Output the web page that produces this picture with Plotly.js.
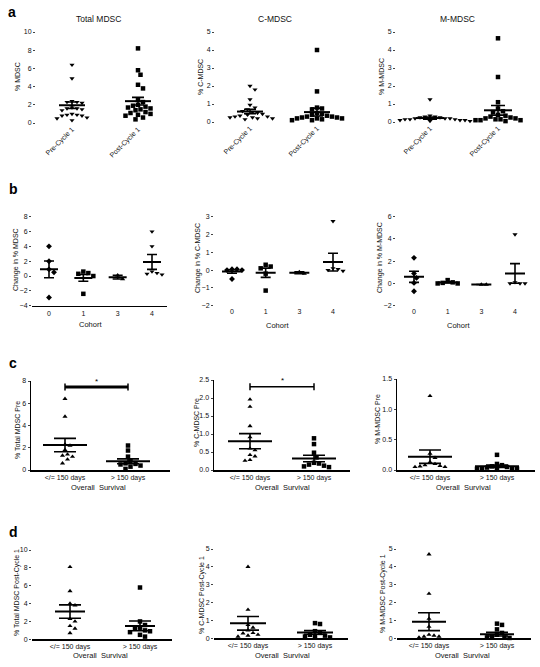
<!DOCTYPE html>
<html><head><meta charset="utf-8">
<script src="https://cdn.plot.ly/plotly-3.0.1.min.js"></script>
<style>html,body{margin:0;padding:0;background:#fff}#chart{width:540px;height:667px}</style>
</head><body><div id="chart"></div>
<script>
// ---------------- DATA ----------------
const aLabels = ['Pre-Cycle 1', 'Post-Cycle 1'];
const cohortLabels = ['0', '1', '3', '4'];
const osLabels = ['</= 150 days', '> 150 days'];

// a: % MDSC pre / post cycle 1
const a1Pre  = [6.4, 4.9, 2.4, 2.3, 2.3, 2.2, 1.7, 1.6, 1.6, 1.5, 1.4, 1.0, 0.9, 0.9, 0.8, 0.8, 0.6, 0.5, 0.3];
const a1Post = [8.2, 5.8, 5.3, 4.2, 3.8, 2.6, 2.3, 2.0, 1.9, 1.8, 1.7, 1.6, 1.5, 1.4, 1.2, 1.1, 1.0, 0.9, 0.8, 0.6, 0.4];
const a1Mean = [1.95, 2.4];
const a1Sem  = [0.35, 0.42];
const a2Pre  = [2.0, 1.8, 1.25, 0.95, 0.8, 0.7, 0.6, 0.55, 0.5, 0.45, 0.4, 0.35, 0.3, 0.3, 0.25, 0.25, 0.2, 0.2, 0.15];
const a2Post = [4.0, 1.7, 0.8, 0.75, 0.7, 0.5, 0.45, 0.4, 0.35, 0.3, 0.3, 0.25, 0.25, 0.2, 0.2, 0.2, 0.15, 0.1, 0.1];
const a2Mean = [0.58, 0.55];
const a2Sem  = [0.12, 0.22];
const a3Pre  = [1.25, 0.35, 0.3, 0.3, 0.25, 0.25, 0.2, 0.2, 0.2, 0.15, 0.15, 0.15, 0.1, 0.1, 0.1, 0.1, 0.05, 0.05];
const a3Post = [4.65, 2.5, 1.1, 0.75, 0.6, 0.55, 0.4, 0.35, 0.3, 0.25, 0.2, 0.2, 0.15, 0.15, 0.1, 0.1, 0.1, 0.05];
const a3Mean = [0.22, 0.65];
const a3Sem  = [0.06, 0.27];

// b: change in % by cohort (0, 1, 3, 4)
const b1C0 = [4.0, 2.0, 0.9, 0.5, -2.9];
const b1C1 = [0.6, 0.4, 0.3, 0.0, -2.4];
const b1C3 = [0.1, -0.4];
const b1C4 = [6.0, 4.0, 0.6, 0.4, 0.3, 0.2];
const b1Mean = [0.9, -0.25, -0.15, 1.9];
const b1Sem  = [1.13, 0.45, 0.25, 1.0];
const b2C0 = [0.05, 0.05, 0.0, 0.0, -0.5];
const b2C1 = [0.3, 0.2, 0.1, -0.2, -1.15];
const b2C3 = [-0.1, -0.2];
const b2C4 = [2.75, 0.1, 0.05, 0.0, -0.05];
const b2Mean = [-0.08, -0.15, -0.15, 0.45];
const b2Sem  = [0.1, 0.26, 0.05, 0.5];
const b3C0 = [2.3, 0.9, 0.5, 0.05, -0.7];
const b3C1 = [0.3, 0.1, 0.05, 0.0, 0.0];
const b3C3 = [-0.1, -0.1];
const b3C4 = [4.4, 0.1, 0.0, 0.0, 0.0];
const b3Mean = [0.6, 0.09, -0.1, 0.9];
const b3Sem  = [0.5, 0.05, 0.0, 0.88];

// c: % pre by overall survival
const c1Short = [6.4, 4.8, 2.3, 2.2, 1.8, 1.4, 1.3, 1.2, 0.95, 0.6];
const c1Long  = [2.2, 1.75, 1.2, 0.8, 0.6, 0.55, 0.5, 0.4, 0.3, 0.1];
const c1Mean = [2.24, 0.78];
const c1Sem  = [0.6, 0.22];
const c2Short = [1.96, 1.76, 1.22, 0.91, 0.6, 0.55, 0.42, 0.38, 0.28, 0.26];
const c2Long  = [0.88, 0.72, 0.48, 0.35, 0.2, 0.18, 0.15, 0.12, 0.1, 0.08];
const c2Mean = [0.8, 0.32];
const c2Sem  = [0.21, 0.09];
const c3Short = [1.22, 0.27, 0.2, 0.13, 0.1, 0.08, 0.07, 0.06, 0.05, 0.05];
const c3Long  = [0.25, 0.1, 0.08, 0.06, 0.05, 0.04, 0.03, 0.03, 0.02, 0.02, 0.01];
const c3Mean = [0.22, 0.06];
const c3Sem  = [0.11, 0.02];
const cSigLevel = [7.45, 2.31];

// d: % post cycle 1 by overall survival
const d1Short = [8.1, 5.4, 4.0, 3.8, 2.3, 2.0, 1.5, 1.2, 0.7];
const d1Long  = [5.8, 2.0, 1.6, 1.3, 1.2, 1.0, 0.9, 0.8, 0.5, 0.3];
const d1Mean = [3.1, 1.5];
const d1Sem  = [0.75, 0.55];
const d2Short = [4.0, 1.6, 0.75, 0.6, 0.45, 0.3, 0.28, 0.2, 0.15, 0.1];
const d2Long  = [0.85, 0.8, 0.4, 0.3, 0.2, 0.15, 0.1, 0.1, 0.05];
const d2Mean = [0.84, 0.33];
const d2Sem  = [0.38, 0.1];
const d3Short = [4.7, 2.5, 1.1, 0.65, 0.2, 0.15, 0.1, 0.1, 0.05];
const d3Long  = [0.82, 0.75, 0.5, 0.3, 0.2, 0.1, 0.05, 0.05, 0.02];
const d3Mean = [0.93, 0.23];
const d3Sem  = [0.5, 0.1];

// ---------------- LAYOUT SPEC ----------------
const W = 540, H = 667;
const FONT = 'Liberation Sans, Arial, sans-serif';
const ynorm = ['square'];
const panels = [
  {dom:[36,176,32,123], yr:[0,10], dt:2, pos:[72,138], groups:[a1Pre,a1Post], mean:a1Mean, sem:a1Sem, sym:['triangle-down','square'], labels:aLabels, angle:-45, hw:13, cap:6, xline:false, yline:false},
  {dom:[215,350,32,122], yr:[0,5], dt:1, pos:[250,317], groups:[a2Pre,a2Post], mean:a2Mean, sem:a2Sem, sym:['triangle-down','square'], labels:aLabels, angle:-45, hw:13, cap:6, xline:false, yline:false},
  {dom:[396,535,32,122], yr:[0,5], dt:1, pos:[430,498], groups:[a3Pre,a3Post], mean:a3Mean, sem:a3Sem, sym:['triangle-down','square'], labels:aLabels, angle:-45, hw:14, cap:7, xline:false, yline:false},
  {dom:[32,167,216.7,305.7], yr:[-4,8], dt:2, pos:[49,152], groups:[b1C0,b1C1,b1C3,b1C4], mean:b1Mean, sem:b1Sem, sym:['diamond','square','triangle-up','triangle-down'], labels:cohortLabels, angle:0, hw:9, cap:5, xline:true, yline:false},
  {dom:[214,350,216.7,305.7], yr:[-2,3], dt:1, pos:[232,333], groups:[b2C0,b2C1,b2C3,b2C4], mean:b2Mean, sem:b2Sem, sym:['diamond','square','triangle-up','triangle-down'], labels:cohortLabels, angle:0, hw:10, cap:5, xline:false, yline:false},
  {dom:[396,535,216.7,305.7], yr:[-2,6], dt:2, pos:[414,515], groups:[b3C0,b3C1,b3C3,b3C4], mean:b3Mean, sem:b3Sem, sym:['diamond','square','triangle-up','triangle-down'], labels:cohortLabels, angle:0, hw:10, cap:5, xline:false, yline:false},
  {dom:[31,170,381,470], yr:[0,8], dt:2, pos:[65,128], groups:[c1Short,c1Long], mean:c1Mean, sem:c1Sem, sym:['triangle-up','square'], labels:osLabels, angle:0, hw:22, cap:11, xline:true, yline:true, sig:cSigLevel[0], sigW:3},
  {dom:[214,350,380,470], yr:[0,2.5], dt:0.5, pos:[250,314], groups:[c2Short,c2Long], mean:c2Mean, sem:c2Sem, sym:['triangle-up','square'], labels:osLabels, angle:0, hw:22, cap:11, xline:true, yline:true, sig:cSigLevel[1], sigW:1.5, fmt:'.1f'},
  {dom:[397,535,379,470], yr:[0,1.5], dt:0.5, pos:[430,497], groups:[c3Short,c3Long], mean:c3Mean, sem:c3Sem, sym:['triangle-up','square'], labels:osLabels, angle:0, hw:22, cap:11, xline:true, yline:true, fmt:'.1f'},
  {dom:[32,172,550,639.3], yr:[0,10], dt:2, pos:[70,140], groups:[d1Short,d1Long], mean:d1Mean, sem:d1Sem, sym:['triangle-up','square'], labels:osLabels, angle:0, hw:15, cap:11, xline:true, yline:false},
  {dom:[214,348,549,638.3], yr:[0,5], dt:1, pos:[248,315], groups:[d2Short,d2Long], mean:d2Mean, sem:d2Sem, sym:['triangle-up','square'], labels:osLabels, angle:0, hw:18, cap:11, xline:true, yline:false},
  {dom:[397,531,549,638.3], yr:[0,5], dt:1, pos:[429,497], groups:[d3Short,d3Long], mean:d3Mean, sem:d3Sem, sym:['triangle-up','square'], labels:osLabels, angle:0, hw:17, cap:11, xline:true, yline:false}
];

function swarm(vals, center, pxX, pxY, diam) {
  const idx = vals.map((v, i) => i).sort((i, j) => vals[j] - vals[i]);
  const placed = [], xs = new Array(vals.length);
  for (const i of idx) {
    const yp = vals[i] * pxY;
    let off = 0;
    for (let k = 0; k < 400; k++) {
      const cand = k === 0 ? 0 : (k % 2 === 1 ? 1 : -1) * Math.ceil(k / 2) * diam * 0.5;
      if (placed.every(p => Math.hypot(p.x - cand, p.y - yp) >= diam)) { off = cand; break; }
    }
    placed.push({x: off, y: yp});
    xs[i] = center + off / pxX;
  }
  return xs;
}

const traces = [];
const layout = {
  width: W, height: H, margin: {l:0, r:0, t:0, b:0}, showlegend: false,
  paper_bgcolor: '#fff', plot_bgcolor: 'rgba(0,0,0,0)',
  font: {family: FONT, size: 7, color: '#111'},
  annotations: []
};

panels.forEach((p, k) => {
  const n = k + 1, sx = n === 1 ? '' : n;
  const [L, R, T, B] = p.dom;
  const ng = p.groups.length;
  const scale = (p.pos[1] - p.pos[0]) / (ng - 1);
  const xr = [-(p.pos[0] - L) / scale, (R - p.pos[0]) / scale];
  const pxY = (B - T) / (p.yr[1] - p.yr[0]);
  const tv = [];
  for (let v = p.yr[0]; v <= p.yr[1] + 1e-9; v += p.dt) tv.push(+v.toFixed(3));
  layout['xaxis' + sx] = {
    domain: [L / W, R / W], range: xr, anchor: 'y' + sx, showgrid: false, zeroline: false,
    showline: p.xline, linecolor: '#000', linewidth: 1.5, ticks: '',
    tickvals: p.groups.map((g, i) => i), ticktext: p.labels, tickangle: p.angle,
    tickfont: {size: 7, color: '#111'}, fixedrange: true
  };
  layout['yaxis' + sx] = {
    domain: [1 - B / H, 1 - T / H], range: p.yr, anchor: 'x' + sx, showgrid: false, zeroline: false,
    showline: p.yline, linecolor: '#000', linewidth: 1.5, ticks: 'outside', ticklen: 2, tickwidth: 1,
    tickcolor: '#444', tickvals: tv, tickformat: p.fmt || '', tickfont: {size: 7, color: '#111'}, fixedrange: true
  };
  const xa = 'x' + sx, ya = 'y' + sx;
  p.groups.forEach((vals, i) => {
    traces.push({type: 'scatter', mode: 'markers', xaxis: xa, yaxis: ya, cliponaxis: false,
      x: swarm(vals, i, scale, pxY, 5), y: vals,
      marker: {symbol: p.sym[i], size: 4.5, color: '#000'}});
    traces.push({type: 'scatter', mode: 'lines', xaxis: xa, yaxis: ya, cliponaxis: false,
      x: [i - p.hw / scale, i + p.hw / scale], y: [p.mean[i], p.mean[i]],
      line: {color: '#000', width: 2}});
    traces.push({type: 'scatter', mode: 'markers', xaxis: xa, yaxis: ya, cliponaxis: false,
      x: [i], y: [p.mean[i]], marker: {size: 1, color: 'rgba(0,0,0,0)'},
      error_y: {type: 'data', array: [p.sem[i]], visible: true, color: '#000', thickness: 1.6, width: p.cap}});
  });
  if (p.sig !== undefined) {
    traces.push({type: 'scatter', mode: 'lines+markers', xaxis: xa, yaxis: ya, cliponaxis: false,
      x: [0, 1], y: [p.sig, p.sig], line: {color: '#000', width: p.sigW},
      marker: {symbol: 'line-ns', size: 5, line: {width: 1.5, color: '#000'}}});
    layout.annotations.push({xref: xa, yref: ya, x: 0.5, y: p.sig, yshift: 6, text: '*',
      showarrow: false, font: {size: 8, color: '#000'}});
  }
});

function ann(text, x, y, opts) {
  layout.annotations.push(Object.assign({xref: 'paper', yref: 'paper', x: x / W, y: 1 - y / H,
    xanchor: 'center', yanchor: 'middle', text: text, showarrow: false,
    font: {family: FONT, size: 7, color: '#111'}}, opts || {}));
}
// panel letters
ann('<b>a</b>', 12, 12, {font: {family: FONT, size: 14, color: '#000'}});
ann('<b>b</b>', 13, 189, {font: {family: FONT, size: 14, color: '#000'}});
ann('<b>c</b>', 13, 363, {font: {family: FONT, size: 14, color: '#000'}});
ann('<b>d</b>', 13, 532, {font: {family: FONT, size: 14, color: '#000'}});
// row a titles
ann('Total MDSC', 98, 19, {font: {family: FONT, size: 8.5, color: '#111'}});
ann('C-MDSC', 275, 19, {font: {family: FONT, size: 8.5, color: '#111'}});
ann('M-MDSC', 457, 19, {font: {family: FONT, size: 8.5, color: '#111'}});
// y titles
const yTitles = [
  ['% MDSC', 18, 77], ['% C-MDSC', 201, 77], ['% M-MDSC', 382, 77],
  ['Change in % MDSC', 16, 260], ['Change in % C-MDSC', 198, 258], ['Change in % M-MDSC', 380, 258],
  ['% Total MDSC Pre', 17, 430], ['% C-MDSC Pre', 196, 423], ['% M-MDSC Pre', 377, 419],
  ['% Total MDSC Post-Cycle 1', 17, 593], ['% C-MDSC Post-Cycle 1', 202, 595], ['% M-MDSC Post-Cycle 1', 383, 594]
];
yTitles.forEach(t => ann(t[0], t[1], t[2], {textangle: -90}));
// x titles
[['Cohort', 90, 324], ['Cohort', 277, 325], ['Cohort', 458, 325],
 ['Overall  Survival', 98, 487], ['Overall  Survival', 282, 487], ['Overall  Survival', 463, 487],
 ['Overall  Survival', 100, 655], ['Overall  Survival', 282, 655], ['Overall  Survival', 462, 655]
].forEach(t => ann(t[0], t[1], t[2], {font: {family: FONT, size: 7.5, color: '#111'}}));

Plotly.newPlot('chart', traces, layout, {staticPlot: true, displayModeBar: false});
</script>
</body></html>
